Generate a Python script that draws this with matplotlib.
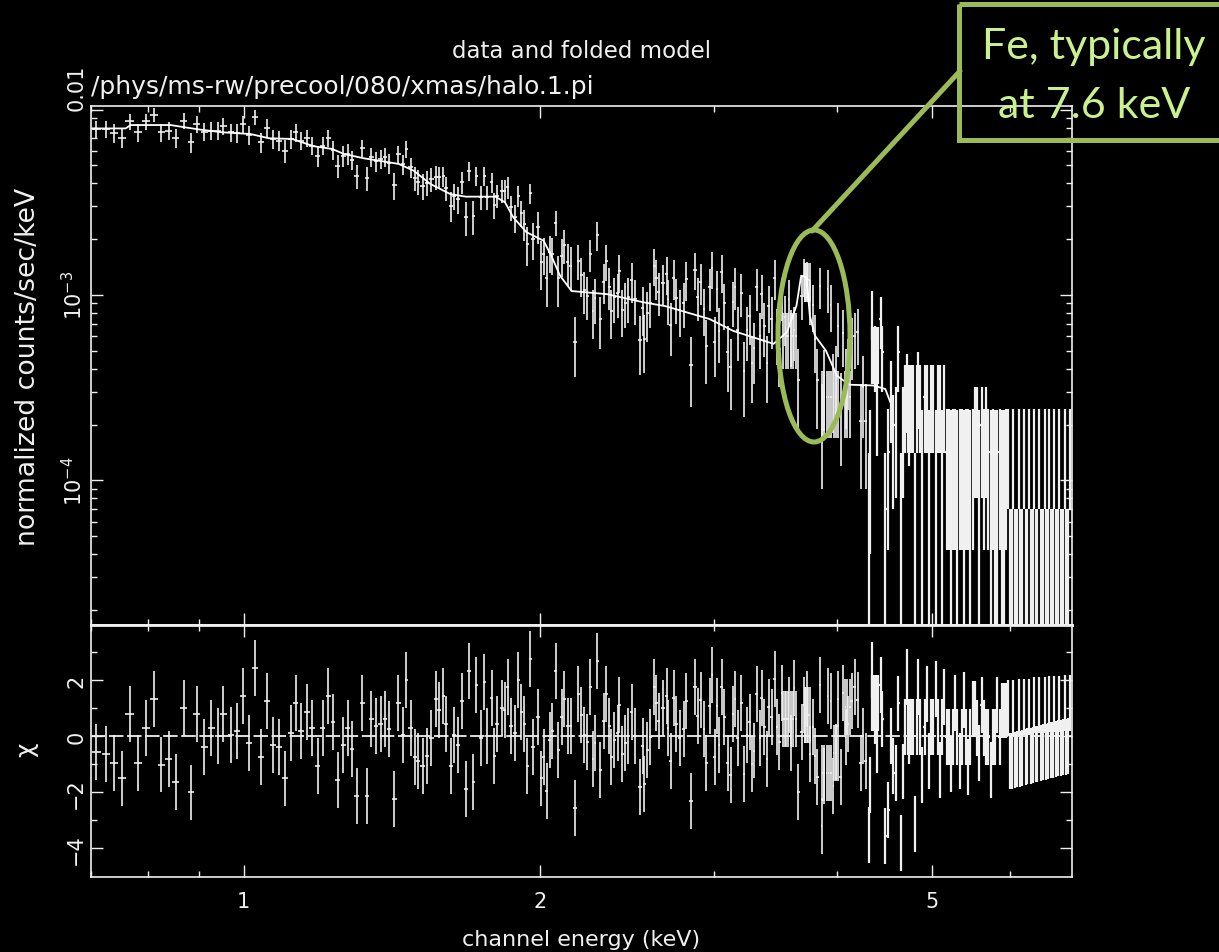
import numpy as np
import matplotlib
matplotlib.use("Agg")
import matplotlib.pyplot as plt
from matplotlib.patches import Ellipse, Rectangle

# 값은 그림에서 읽은 추정치 (rate 단위: 1e-3 counts/sec/keV)
energy_low = [.709,.725,.738,.753,.766,.782,.796,.811,.825,.839,
    .853,.869,.884,.896,.912,.927,.941,.954,.971,.985,
    .999,1.012,1.027,1.041,1.056,1.071,1.086,1.101,1.117,1.129,
    1.144,1.160,1.173,1.189,1.203,1.219,1.232,1.246,1.262,1.275,
    1.288,1.303,1.320,1.335,1.348,1.363,1.377,1.391,1.405,1.422,
    1.436,1.451,1.463,1.477,1.493,1.504,1.519,1.535,1.551,1.568,
    1.579,1.595,1.606,1.623,1.635,1.652,1.667,1.681,1.693,1.711,
    1.723,1.741,1.754,1.766,1.785,1.797,1.808,1.828,1.841,1.854,
    1.867,1.886,1.900,1.914,1.926,1.941,1.955,1.968,1.989,2.004,
    2.016,2.030,2.045,2.058,2.073,2.087,2.104,2.116,2.132,2.147,
    2.170,2.186]
rate_low = [7.85,7.85,7.48,7.03,8.63,7.54,8.63,9.38,7.54,7.7,
    7.03,8.7,6.66,8.35,7.6,7.7,7.7,8.18,7.54,7.48,
    8.35,7.3,9.07,6.66,8.0,6.94,6.8,6.0,6.94,7.54,
    6.8,7.0,6.39,5.64,6.39,7.0,6.05,4.98,5.64,5.76,
    5.36,4.37,6.18,4.27,5.52,5.28,5.41,5.52,5.14,3.92,
    5.76,5.07,6.13,4.88,4.26,4.09,3.89,4.02,4.23,4.32,
    4.32,4.37,3.76,3.03,3.43,3.29,4.06,2.62,4.68,2.65,
    4.37,3.36,4.37,3.36,4.06,3.06,3.43,3.65,3.65,3.81,
    2.97,2.62,3.43,2.77,2.41,1.88,3.53,2.0,2.34,1.51,
    1.66,1.24,1.70,1.66,2.45,1.24,1.63,1.85,1.50,1.44,
    .56,1.53]
err_low = [.85,.85,.85,.85,.85,.85,.85,.85,.85,.85,
    .85,.85,.85,.85,.85,.85,.85,.85,.85,.85,
    .85,.85,.85,.85,.85,.85,.85,.85,.85,.85,
    .72,.72,.72,.72,.72,.72,.72,.72,.72,.72,
    .65,.65,.65,.65,.65,.65,.65,.65,.65,.65,
    .62,.62,.62,.62,.62,.62,.62,.62,.62,.62,
    .55,.55,.55,.55,.55,.55,.55,.55,.55,.55,
    .5,.5,.5,.5,.5,.5,.5,.5,.5,.5,
    .45,.45,.45,.45,.45,.45,.45,.45,.45,.45,
    .38,.38,.38,.38,.38,.38,.38,.38,.38,.38,
    .2,.33]
chi_low = [-.57,-.63,-.96,-1.51,.81,-.95,.31,1.32,-1.01,-.83,
    -1.64,1.01,-2.01,.81,-.38,.31,0,.81,.05,.18,
    1.44,-.25,2.44,-.75,1.26,-.32,-.38,-1.51,.13,1.2,
    .18,.87,.31,-1.07,.31,1.44,.5,-1.57,-.32,.31,
    -.44,-2.13,1.2,-2.13,.62,.38,.44,.62,.25,-2.26,
    1.2,.06,2.0,.31,-.75,-.87,-1.07,-.69,-.05,1.32,
    .95,1.44,.44,-1.07,.06,-.32,1.26,-1.89,2.32,-1.64,
    1.82,-.07,1.94,.02,1.38,-.69,.44,1.01,.95,1.76,
    .37,.13,2.0,.87,.44,-1.07,2.75,-.38,.68,-1.51,
    -.75,-1.95,-.12,.19,2.32,-.5,.68,1.32,.38,.38,
    -2.57,1.5]

energy_mid = [2.201,2.216,2.232,2.248,2.264,2.271,2.286,2.302,2.319,2.335,
    2.351,2.362,2.379,2.396,2.406,2.423,2.441,2.458,2.476,2.494,
    2.523,2.541,2.551,2.569,2.587,2.612,2.624,2.639,2.664,2.687,
    2.697,2.712,2.733,2.75,2.77,2.796,2.815,2.844,2.871,2.891,
    2.91,2.933,2.949,2.971,2.987,3.006,3.022,3.039,3.056,3.075,
    3.1,3.12,3.137,3.154,3.174,3.2,3.22,3.243,3.263,3.282,
    3.297,3.316,3.342,3.355,3.377,3.396,3.41,3.437,3.459,3.479,
    3.498,3.521,3.544,3.573,3.593,3.623,3.656,3.684,3.705,3.731,
    3.756,3.782,3.801,3.823,3.843,3.862,3.885,3.916,3.943,3.966,
    3.995,4.01,4.035,4.06,4.083,4.11,4.14,4.17,4.2,4.23,
    4.25,4.28,4.31,4.32,4.34,4.37,4.39,4.43,4.45,4.48,
    4.51,4.54,4.56,4.59,4.62,4.65,4.67,4.71,4.73,4.8,
    4.84,
    3.53,3.55,3.57,3.59,3.61,3.635,
    3.71,3.717,3.73,3.742,3.755,
    3.865,3.885,3.905,3.925,3.945,3.97,3.99,4.01,4.08,4.10,4.125,
    4.345,4.36,4.375,4.39,4.405,
    4.69,4.72,4.745,4.76,4.78,4.82]
rate_mid = [1.28,1.06,.99,1.66,.82,.96,2.11,.74,1.18,1.52,
    1.11,.82,.97,1.02,1.34,.83,.91,.97,1.2,.95,
    .57,.85,.58,.8,.91,1.44,1.24,1.04,1.16,1.3,
    .95,.69,1.24,.96,.83,.91,1.22,.42,1.37,.98,
    1.17,.84,.53,1.1,1.39,.56,1.08,.64,1.33,.9,
    .49,.41,.92,1.11,.65,1.03,.39,.65,.77,.43,
    .52,1.1,.6,1.01,.68,.43,.87,.74,1.24,.63,
    .51,.98,.76,.95,.62,.65,.35,.99,1.27,1.22,
    .95,.88,.58,.35,1.12,.21,.345,1.08,.88,.33,
    .37,.68,.25,.62,.35,.41,.55,.6,.63,.21,
    .32,.21,.07,.14,.81,.49,.275,.74,.49,.07,
    .142,.3,.18,.2,.49,.07,.2,.33,.26,.07,
    .34,
    .6,.6,.6,.6,.6,.6,
    1.2,1.2,1.2,1.2,1.2,
    .28,.28,.28,.28,.28,.28,.28,.28,.28,.28,.28,
    .5,.5,.5,.5,.5,
    .28,.28,.28,.28,.28,.28]
err_mid = [.3,.27,.26,.33,.24,.26,.38,.23,.29,.33,
    .28,.24,.26,.27,.31,.24,.25,.26,.29,.26,
    .2,.25,.2,.24,.25,.32,.3,.27,.29,.3,
    .26,.22,.3,.26,.24,.25,.29,.17,.31,.26,
    .29,.24,.2,.28,.31,.2,.27,.21,.31,.25,
    .19,.17,.25,.28,.21,.27,.17,.21,.23,.17,
    .19,.28,.2,.27,.22,.17,.25,.23,.3,.21,
    .19,.26,.23,.26,.21,.21,.16,.26,.3,.29,
    .26,.25,.2,.16,.28,.12,.16,.28,.25,.15,
    .16,.22,.13,.21,.16,.17,.2,.2,.21,.12,
    .15,.12,.07,.1,.24,.19,.14,.23,.19,.07,
    .1,.14,.11,.12,.19,.07,.12,.15,.14,.07,
    .15,
    .2,.2,.2,.2,.2,.2,
    .28,.28,.28,.28,.28,
    .11,.11,.11,.11,.11,.11,.11,.11,.11,.11,.11,
    .17,.17,.17,.17,.17,
    .14,.14,.14,.14,.14,.14]
chi_mid = [.75,.06,-.19,1.76,-.83,-.24,2.69,-1.2,.56,1.51,
    .37,-.75,-.12,.13,1.13,-.63,-.25,.02,.86,.02,
    -1.82,-.34,-1.7,-.5,-.02,1.76,1.2,.56,1.0,1.44,
    .31,-.87,1.37,.44,-.06,.25,1.26,-2.33,1.76,.74,
    1.31,.26,-.94,1.07,2.19,-.75,1.07,-.32,1.76,.68,
    -.95,-1.38,.8,1.32,-.06,1.2,-1.35,.06,.5,-1.0,
    -.51,1.5,-.06,1.38,.32,-.81,1.04,.68,2.06,.32,
    -.2,1.56,.62,1.13,-.24,1.74,-2.0,.14,1.13,1.34,
    -.63,.32,-.69,-1.45,1.82,-3.2,-1.41,1.44,1.26,-1.77,
    -.57,1.32,-1.44,1.56,-.04,.44,1.26,1.76,1.28,-.95,
    .02,-.87,-3.52,-1.75,2.36,.74,-.31,1.82,.62,-3.57,
    -2.65,.02,-1.05,-1.33,1.17,-3.83,-1.26,2.12,0,-3.14,
    1.76,
    .6,.6,.6,.6,.6,.6,
    .75,.75,.75,.75,.75,
    -1.3,-1.3,-1.3,-1.3,-1.3,-.6,-.6,-.6,1.05,1.05,1.05,
    1.2,1.2,1.2,1.2,1.2,
    .32,.32,.32,.32,.32,.32]

energy_high = [4.86,4.885,4.91,4.935,4.96,4.985,5.01,5.04,5.065,5.09,
    5.115,5.14,5.17,5.195,5.22,5.25,5.275,5.30,5.33,5.355,
    5.385,5.41,5.44,5.465,5.495,5.525,5.55,5.58,5.61,5.64,
    5.67,5.70,5.73,5.76,5.79,5.82,5.85,5.88,5.91,5.94,
    5.97,5.99,6.02,6.04,6.07,6.09,6.12,6.14,6.17,6.19,
    6.22,6.24,6.27,6.29,6.32,6.34,6.37,6.39,6.42,6.44,
    6.47,6.50,6.52,6.55,6.57,6.60,6.63,6.65,6.68,6.71,
    6.73,6.76,6.79,6.81,6.84,6.87,6.90]
rate_high = [.28,.12,.28,.28,.12,.28,.28,.12,.28,.28,
    .12,.28,.142,.142,.12,.142,.142,.12,.142,.142,
    .12,.142,.142,.12,.142,.2,.2,.12,.2,.142,
    .2,.142,.12,.142,.12,.12,.142,.12,.12,.142,
    .156,.035,.035,.156,.035,.035,.156,.035,.035,.156,
    .035,.035,.156,.035,.035,.156,.035,.035,.156,.035,
    .035,.156,.035,.035,.156,.035,.035,.156,.035,.035,
    .156,.035,.035,.156,.035,.035,.156]
err_high = [.14,.12,.14,.14,.12,.14,.14,.12,.14,.14,
    .12,.14,.1,.1,.12,.1,.1,.12,.1,.1,
    .12,.1,.1,.12,.1,.12,.12,.12,.12,.1,
    .12,.1,.12,.1,.12,.12,.1,.12,.12,.1,
    .086,.035,.035,.086,.035,.035,.086,.035,.035,.086,
    .035,.035,.086,.035,.035,.086,.035,.035,.086,.035,
    .035,.086,.035,.035,.086,.035,.035,.086,.035,.035,
    .086,.035,.035,.086,.035,.035,.086]
chi_high = [.32,-1.4,.32,1.5,-.9,.32,.32,1.7,.32,-1.2,
    .32,1.4,-.04,-.04,-1.0,-.04,1.2,-.04,-.9,-.04,
    1.3,-.04,-1.1,-.04,.96,.96,.3,-.6,1.1,.3,
    -.04,-.04,-1.2,-.04,-.04,1.1,-.04,.92,.92,.92,
    1.0,-.9,-.88,1.0,-.85,-.82,1.05,-.8,-.78,1.05,
    -.75,-.72,1.05,-.7,-.68,1.1,-.65,-.62,1.1,-.6,
    -.58,1.1,-.55,-.52,1.15,-.5,-.48,1.15,-.45,-.43,
    1.15,-.42,-.4,1.2,-.38,-.36,1.2]

model_energy = [.702,.759,.768,.843,.873,.904,.951,1.016,1.061,1.120,1.178,1.230,1.264,
    1.324,1.437,1.488,1.547,1.621,1.680,1.801,1.842,1.878,1.937,2.016,2.052,2.095,
    2.152,2.338,2.546,2.68,2.97,3.14,3.45,3.56,3.64,3.68,3.727,3.755,3.80,3.90,4.0,
    4.12,4.355,4.48,4.53]
model_rate = [7.91,7.91,8.25,8.25,8.01,7.79,7.54,7.38,7.0,6.94,6.34,6.13,5.76,
    5.46,5.09,4.68,3.97,3.5,3.39,3.39,3.16,2.62,2.18,1.96,1.63,1.27,
    1.05,1.01,.913,.87,.742,.64,.545,.63,.876,1.27,1.245,.774,.604,.5,.367,
    .328,.325,.311,.266]

x_major = [1, 2, 5]
x_minor = [.7, .8, .9, 3, 4, 6]

plt.rcParams['font.family'] = ['DejaVu Sans']
plt.rcParams['mathtext.fontset'] = 'dejavusans'
fg = '#f0f0f0'
green = '#9BBB59'
W, H = 1219, 953

energy = np.array(energy_low + energy_mid + energy_high)
rate = np.array(rate_low + rate_mid + rate_high) * 1e-3
rate_err = np.array(err_low + err_mid + err_high) * 1e-3
chi = np.array(chi_low + chi_mid + chi_high)
order = np.argsort(energy)
energy, rate, rate_err, chi = energy[order], rate[order], rate_err[order], chi[order]
half_width = np.gradient(energy) / 2

fig = plt.figure(figsize=(W / 100, H / 100), dpi=100, facecolor='black')
ax1 = fig.add_axes([91 / W, 1 - 626 / H, 981 / W, 519 / H], facecolor='black')
ax2 = fig.add_axes([91 / W, 1 - 878 / H, 981 / W, 252 / H], facecolor='black')

# 고에너지 쪽은 막대가 겹쳐 흰 덩어리로 보이게 더 굵게
soft = energy < 4.3
for mask, lw in ((soft, 1.2), (~soft, 1.6)):
    ax1.errorbar(energy[mask], rate[mask], yerr=rate_err[mask], xerr=half_width[mask],
                 fmt='none', ecolor=fg, elinewidth=lw)
    ax2.errorbar(energy[mask], chi[mask], yerr=1, xerr=half_width[mask],
                 fmt='none', ecolor=fg, elinewidth=lw)
ax1.plot(np.array(model_energy), np.array(model_rate) * 1e-3, color='white', lw=1.3)
ax2.axhline(0, color=fg, lw=1.3, ls=(0, (8, 2)))

for ax in (ax1, ax2):
    ax.set_xscale('log')
    ax.set_xlim(0.70, 6.93)
    ax.set_xticks(x_major)
    ax.set_xticks(x_minor, minor=True)
    ax.tick_params(which='major', direction='in', top=True, right=True, color=fg, length=8.5, width=1)
    ax.tick_params(which='minor', direction='in', top=True, right=True, color=fg, length=4.5, width=1)
    for s in ax.spines.values():
        s.set_color(fg)
        s.set_linewidth(1.2)

ax1.set_yscale('log', nonpositive='clip')
ax1.set_ylim(1.66e-5, 0.01045)
ax1.set_yticks([1e-2, 1e-3, 1e-4])
ax1.set_yticklabels(['0.01', r'$\mathregular{10^{-3}}$', r'$\mathregular{10^{-4}}$'],
                    rotation=90, va='center', color=fg, fontsize=15)
ax1.get_yticklabels()[0].set_va('bottom')
ax1.yaxis.set_minor_locator(matplotlib.ticker.LogLocator(base=10, subs=np.arange(2, 10), numticks=12))
ax1.yaxis.set_minor_formatter(matplotlib.ticker.NullFormatter())
ax1.xaxis.set_major_formatter(matplotlib.ticker.NullFormatter())
ax1.xaxis.set_minor_formatter(matplotlib.ticker.NullFormatter())
ax1.set_ylabel('normalized counts/sec/keV', color=fg, fontsize=19.3, labelpad=14)
ax1.spines['bottom'].set_linewidth(2)

ax2.set_ylim(-5.03, 3.975)
ax2.set_yticks([-4, -2, 0, 2])
ax2.set_yticks([-3, -1, 1, 3], minor=True)
ax2.set_yticklabels(['\u22124', '\u22122', '0', '2'], rotation=90, va='center', color=fg, fontsize=15)
ax2.xaxis.set_major_formatter(matplotlib.ticker.FixedFormatter(['1', '2', '5']))
ax2.xaxis.set_minor_formatter(matplotlib.ticker.NullFormatter())
ax2.tick_params(axis='x', labelcolor=fg, labelsize=15, pad=10)
ax2.spines['top'].set_linewidth(2)
ax2.set_xlabel('channel energy (keV)', color=fg, fontsize=16, labelpad=13)
ax2.set_ylabel('\u03c7', color=fg, fontsize=18, labelpad=20)
ax2.yaxis.set_label_coords(-0.054, 0.51)

fig.text(582 / W, 1 - 52 / H, 'data and folded model', color=fg, fontsize=16.5, ha='center', va='center')
fig.text(91 / W, 1 - 87 / H, '/phys/ms-rw/precool/080/xmas/halo.1.pi', color=fg, fontsize=18, ha='left', va='center')

# 주석 레이어 (픽셀 좌표)
over = fig.add_axes([0, 0, 1, 1], facecolor='none')
over.set_xlim(0, W)
over.set_ylim(H, 0)
over.axis('off')
over.add_patch(Ellipse((814, 337), 72, 212, fill=False, edgecolor=green, lw=3.6))
over.plot([812, 960], [232, 72], color=green, lw=3.6, solid_capstyle='round')
over.add_patch(Rectangle((959, 5), 270, 136, fill=False, edgecolor=green, lw=3.6, clip_on=True))
over.text(1094, 47, 'Fe, typically', color='#C9F28F', fontsize=31, ha='center', va='center', family='Lato')
over.text(1094, 106, 'at 7.6 keV', color='#C9F28F', fontsize=31, ha='center', va='center', family='Lato')

fig.savefig('out.png', dpi=100, facecolor='black')
